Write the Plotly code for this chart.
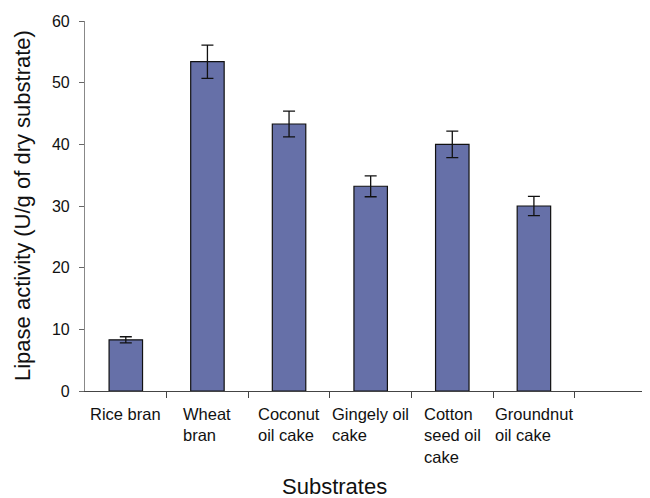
import plotly.graph_objects as go

categories = ["Rice bran", "Wheat bran", "Coconut oil cake", "Gingely oil cake",
              "Cotton seed oil cake", "Groundnut oil cake"]
tick_labels = ["Rice bran", "Wheat<br>bran", "Coconut<br>oil cake", "Gingely oil<br>cake",
               "Cotton<br>seed oil<br>cake", "Groundnut<br>oil cake"]
activity = [8.3, 53.4, 43.3, 33.2, 40.0, 30.0]
errors = [0.5, 2.7, 2.1, 1.7, 2.15, 1.55]

FONT = "Arial, Liberation Sans, sans-serif"
xpos = list(range(len(categories)))

fig = go.Figure()
fig.add_trace(go.Bar(
    x=xpos, y=activity, width=0.41,
    marker=dict(color="rgb(102,112,168)", line=dict(color="#111111", width=1.2)),
    error_y=dict(type="data", array=errors, color="#111111", thickness=1.3, width=6),
    showlegend=False,
))

for i, lab in enumerate(tick_labels):
    fig.add_annotation(x=i, y=0, xref="x", yref="y", text=lab, showarrow=False,
                       xanchor="center", yanchor="top", align="left", yshift=-12,
                       font=dict(family=FONT, size=16.5, color="#111111"))

fig.add_annotation(x=-63 / 564, y=0.5, xref="paper", yref="paper",
                   text="Lipase activity (U/g of dry substrate)", textangle=-90,
                   showarrow=False, xanchor="center", yanchor="middle",
                   font=dict(family=FONT, size=22, color="#111111"))
fig.add_annotation(x=(334 - 85) / 564, y=-95 / 370,
                   xref="paper", yref="paper", text="Substrates", showarrow=False,
                   xanchor="center", yanchor="middle",
                   font=dict(family=FONT, size=22, color="#111111"))

fig.update_layout(
    width=642, height=490,
    margin=dict(l=77, r=1, t=13, b=107),
    plot_bgcolor="white", paper_bgcolor="white",
    font=dict(family=FONT, size=15, color="#111111"),
    xaxis=dict(range=[-0.5, 6.41], showgrid=False, zeroline=False,
               showline=True, linecolor="#444444", linewidth=1.2,
               tickmode="array", tickvals=[k + 0.5 for k in range(6)],
               ticks="outside", ticklen=6, tickcolor="#444444", showticklabels=False),
    yaxis=dict(range=[0, 60], showgrid=False, zeroline=False,
               showline=True, linecolor="#888888", linewidth=1.2,
               tickmode="linear", tick0=0, dtick=10,
               ticks="outside", ticklen=5, tickcolor="#666666",
               ticklabelstandoff=6,
               tickfont=dict(family=FONT, size=16, color="#111111")),
)

fig.write_html("out.html")
